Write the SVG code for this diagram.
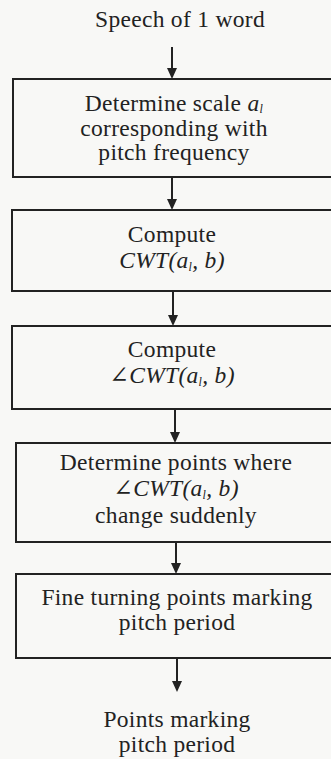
<svg xmlns="http://www.w3.org/2000/svg" width="331" height="759" viewBox="0 0 331 759">
<style>
.t{font-family:"Liberation Serif","DejaVu Serif",serif;font-size:23.5px;fill:#222;text-anchor:middle;letter-spacing:0.3px}
.i{font-style:italic}
.s{font-size:12px;font-style:italic}
.box{fill:none;stroke:#222;stroke-width:2}
.con{stroke:#222;stroke-width:2;fill:none}
.ah{fill:#222}
</style>
<rect width="331" height="759" fill="#f8f8f6"/>
<g id="connectors">
<line class="con" x1="172" y1="47" x2="172" y2="70"/>
<path class="ah" d="M167,68 L177,68 L172,79 Z"/>
<line class="con" x1="172" y1="177" x2="172" y2="201"/>
<path class="ah" d="M167,199 L177,199 L172,210 Z"/>
<line class="con" x1="173" y1="291" x2="173" y2="317"/>
<path class="ah" d="M168,315 L178,315 L173,326 Z"/>
<line class="con" x1="175" y1="409" x2="175" y2="434"/>
<path class="ah" d="M170,432 L180,432 L175,443 Z"/>
<line class="con" x1="176" y1="542" x2="176" y2="565"/>
<path class="ah" d="M171,563 L181,563 L176,574 Z"/>
<line class="con" x1="177" y1="658" x2="177" y2="683"/>
<path class="ah" d="M172,681 L182,681 L177,692 Z"/>
</g>
<g id="start">
<text class="t" x="180" y="27">Speech of 1 word</text>
</g>
<g id="n1">
<rect class="box" x="13" y="79" width="330" height="98"/>
<text class="t" x="174" y="111">Determine scale <tspan class="i">a</tspan><tspan class="s" dy="2">l</tspan></text>
<text class="t" x="174" y="136">corresponding with</text>
<text class="t" x="174" y="160">pitch frequency</text>
</g>
<g id="n2">
<rect class="box" x="12" y="210" width="330" height="81"/>
<text class="t" x="172" y="242">Compute</text>
<text class="t i" x="172" y="268">CWT(a<tspan class="s" dy="3">l</tspan><tspan dy="-3">, b)</tspan></text>
</g>
<g id="n3">
<rect class="box" x="12" y="326" width="330" height="83"/>
<text class="t" x="172" y="357">Compute</text>
<text class="t i" x="172" y="383">∠CWT(a<tspan class="s" dy="3">l</tspan><tspan dy="-3">, b)</tspan></text>
</g>
<g id="n4">
<rect class="box" x="16" y="443" width="330" height="99"/>
<text class="t" x="176" y="470">Determine points where</text>
<text class="t i" x="176" y="496">∠CWT(a<tspan class="s" dy="3">l</tspan><tspan dy="-3">, b)</tspan></text>
<text class="t" x="176" y="523">change suddenly</text>
</g>
<g id="n5">
<rect class="box" x="16" y="574" width="330" height="84"/>
<text class="t" x="177" y="605">Fine turning points marking</text>
<text class="t" x="177" y="630">pitch period</text>
</g>
<g id="end">
<text class="t" x="177" y="727">Points marking</text>
<text class="t" x="177" y="752">pitch period</text>
</g>
</svg>
